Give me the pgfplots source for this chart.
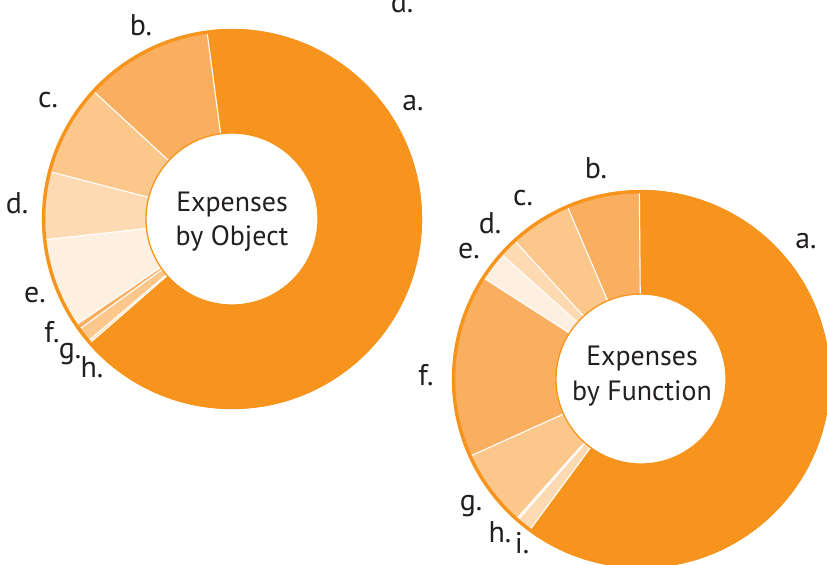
\documentclass[border=0pt]{standalone}
\usepackage{pgfplots}
\usepackage{pgfplotstable}
\pgfplotsset{compat=1.18}
\usepackage{fontspec}
\setmainfont{PT Sans}
\definecolor{o0}{HTML}{F7941D}
\definecolor{o1}{HTML}{F9AF5F}
\definecolor{o2}{HTML}{FBC78A}
\definecolor{o3}{HTML}{FDDAB1}
\definecolor{o4}{HTML}{FEF0E0}
\definecolor{txt}{HTML}{231F20}

% slice sizes in percent; row 0 (a) runs clockwise from the start angle, the rest counter-clockwise
\pgfplotstableread{
label value shade
a 65.73 o0
b 11.03 o1
c 7.81 o2
d 5.80 o3
e 7.75 o4
f 0.45 o1
g 1.25 o2
h 0.22 o3
}\objtable

\pgfplotstableread{
label value shade
a 60.25 o0
b 6.28 o1
c 5.36 o2
d 1.61 o3
e 2.53 o4
f 15.83 o1
g 6.67 o2
h 0.17 o4
i 1.31 o3
}\funtable

% #1 table, #2 cx, #3 cy, #4 R, #5 r, #6 start angle
\newcommand\drawdonut[6]{%
  \pgfplotstablegetrowsof{#1}%
  \pgfmathtruncatemacro\nlast{\pgfplotsretval-1}%
  \pgfplotstablegetelem{0}{value}\of{#1}\let\val\pgfplotsretval
  \pgfplotstablegetelem{0}{shade}\of{#1}\let\shd\pgfplotsretval
  \pgfmathsetmacro\aend{#6-3.6*\val}%
  \edef\tmp{\noexpand\fill[\shd] ([shift={(#6:#4bp)}]axis cs:#2,#3) arc[start angle=#6,end angle=\aend,radius=#4bp] -- ([shift={(\aend:#5bp)}]axis cs:#2,#3) arc[start angle=\aend,end angle=#6,radius=#5bp] -- cycle;}\tmp
  \def\cur{#6}%
  \pgfplotsforeachungrouped \i in {1,...,\nlast}{%
    \pgfplotstablegetelem{\i}{value}\of{#1}\let\val\pgfplotsretval
    \pgfplotstablegetelem{\i}{shade}\of{#1}\let\shd\pgfplotsretval
    \pgfmathsetmacro\nxt{\cur+3.6*\val}%
    \edef\tmp{\noexpand\fill[\shd] ([shift={(\cur:#4bp)}]axis cs:#2,#3) arc[start angle=\cur,end angle=\nxt,radius=#4bp] -- ([shift={(\nxt:#5bp)}]axis cs:#2,#3) arc[start angle=\nxt,end angle=\cur,radius=#5bp] -- cycle;}\tmp
    \edef\tmp{\noexpand\draw[white,line width=1.1bp] ([shift={(\cur:#5bp)}]axis cs:#2,#3) -- ([shift={(\cur:#4bp)}]axis cs:#2,#3);}\tmp
    \let\cur\nxt
  }%
  \edef\tmp{\noexpand\draw[white,line width=1.1bp] ([shift={(\cur:#5bp)}]axis cs:#2,#3) -- ([shift={(\cur:#4bp)}]axis cs:#2,#3);}\tmp
  \draw[o0,line width=3.4bp] (axis cs:#2,#3) circle[radius=#4bp-1.6bp];
  \draw[o0,line width=1.3bp] (axis cs:#2,#3) circle[radius=#5bp];
}

\begin{document}
\begin{tikzpicture}
\begin{axis}[
  at={(0,0)}, anchor=north west,
  width=827bp, height=565bp, scale only axis,
  xmin=0, xmax=827, ymin=0, ymax=565, y dir=reverse,
  hide axis, clip=true,
]
\drawdonut{\objtable}{232}{219}{190}{86}{97.6}
\drawdonut{\funtable}{641}{379}{189}{85}{90.5}

\tikzset{lab/.style={anchor=base, text=txt, inner sep=0pt, font={\fontsize{30}{36}\selectfont}},
         ctr/.style={anchor=base, text=txt, inner sep=0pt, font={\fontsize{28}{34}\selectfont}}}
% left labels
\node[lab] at (axis cs:413,110) {a.};
\node[lab] at (axis cs:141,35) {b.};
\node[lab] at (axis cs:48,107) {c.};
\node[lab] at (axis cs:17,213) {d.};
\node[lab] at (axis cs:35,302) {e.};
\node[lab] at (axis cs:52,342) {f.};
\node[lab] at (axis cs:70,358) {g.};
\node[lab] at (axis cs:92,377) {h.};
\node[lab] at (axis cs:402,12) {d.};
\node[ctr] at (axis cs:232,211) {Expenses};
\node[ctr] at (axis cs:232,245) {by Object};
% right labels
\node[lab] at (axis cs:806,248) {a.};
\node[lab] at (axis cs:596,178) {b.};
\node[lab] at (axis cs:523,205) {c.};
\node[lab] at (axis cs:490,233) {d.};
\node[lab] at (axis cs:469,258) {e.};
\node[lab] at (axis cs:426,385) {f.};
\node[lab] at (axis cs:471,510) {g.};
\node[lab] at (axis cs:500,542) {h.};
\node[lab] at (axis cs:522,553) {i.};
\node[ctr] at (axis cs:642,365) {Expenses};
\node[ctr] at (axis cs:642,400) {by Function};
\end{axis}
\pgfresetboundingbox
\path[use as bounding box] (0,0) rectangle (827bp,-565bp);
\end{tikzpicture}
\end{document}
